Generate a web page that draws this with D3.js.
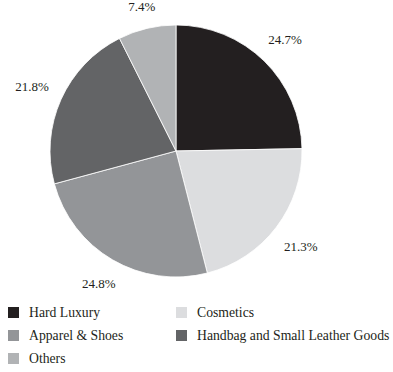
<!DOCTYPE html>
<html>
<head>
<meta charset="utf-8">
<script src="https://cdn.jsdelivr.net/npm/d3@7"></script>
<style>
  html, body { margin: 0; padding: 0; background: #fff; }
  svg { display: block; }
  text { font-family: "Liberation Serif", "Times New Roman", serif; fill: #231f20; }
</style>
</head>
<body>
<svg id="chart" width="393" height="372"></svg>
<script>
// Sales mix by category (share of total, %)
const categories = ["Hard Luxury", "Cosmetics", "Apparel & Shoes", "Handbag and Small Leather Goods", "Others"];
const shares = [24.7, 21.3, 24.8, 21.8, 7.4];
const colors = ["#231f20", "#dcdddf", "#939598", "#636466", "#b1b3b5"];
// Legend reading order (two columns, row by row)
const legendOrder = ["Hard Luxury", "Cosmetics", "Apparel & Shoes", "Handbag and Small Leather Goods", "Others"];

const svg = d3.select("#chart");
const cx = 176, cy = 151, radius = 126, labelGap = 14;

const data = categories.map((c, i) => ({ category: c, value: shares[i] }));
const color = d3.scaleOrdinal().domain(categories).range(colors);

const pie = d3.pie().value(d => d.value).sort(null);
const arc = d3.arc().innerRadius(0).outerRadius(radius);

const g = svg.append("g").attr("transform", `translate(${cx},${cy})`);
const arcs = pie(data);

g.selectAll("path.slice")
  .data(arcs)
  .join("path")
  .attr("class", "slice")
  .attr("d", arc)
  .attr("fill", d => color(d.data.category))
  .attr("stroke", "#fff")
  .attr("stroke-width", 0.8);

// Percentage labels: placed outside each slice so the label box keeps a
// constant gap from the rim, whatever direction it sits in.
const labels = g.selectAll("text.pct")
  .data(arcs)
  .join("text")
  .attr("class", "pct")
  .attr("text-anchor", "middle")
  .attr("dy", "0.35em")
  .attr("font-size", 13)
  .text(d => d3.format(".1f")(d.data.value) + "%");

labels.each(function(d) {
  const box = this.getBBox();
  const a = (d.startAngle + d.endAngle) / 2;
  const sx = Math.sin(a), sy = -Math.cos(a);
  const r = radius + labelGap + Math.abs(sx) * box.width / 2 + Math.abs(sy) * box.height / 2 * 0.75;
  d3.select(this).attr("transform", `translate(${sx * r},${sy * r})`);
});

// Legend
const legend = svg.append("g").attr("transform", "translate(8,307)");
const colX = d3.scalePoint().domain([0, 1]).range([0, 168]);
const rowY = d3.scalePoint().domain([0, 1, 2]).range([0, 46]);

const items = legend.selectAll("g.item")
  .data(legendOrder)
  .join("g")
  .attr("class", "item")
  .attr("transform", (d, i) => `translate(${colX(i % 2)},${rowY(Math.floor(i / 2))})`);

items.append("rect")
  .attr("width", 11)
  .attr("height", 11)
  .attr("fill", d => color(d));

items.append("text")
  .attr("x", 21)
  .attr("y", 10)
  .attr("font-size", 13.7)
  .text(d => d);
</script>
</body>
</html>
